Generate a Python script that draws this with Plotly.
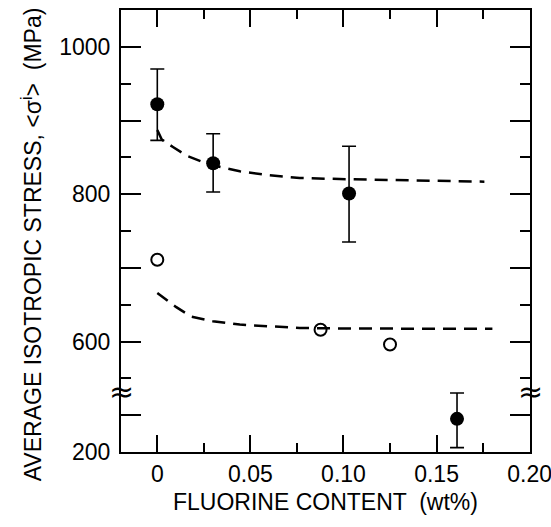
import plotly.graph_objects as go

# ---------------- data (real units) ----------------
filled_x = [0.0, 0.03, 0.103, 0.161]
filled_y = [922, 842, 801, 245]
filled_err_plus = [48, 40, 64, 35]
filled_err_minus = [49, 39, 66, 39]

open_x = [0.0, 0.0877, 0.125]
open_y = [711, 616, 596]

fit_upper_x = [0.0, 0.0024, 0.0084, 0.0159, 0.0282, 0.0443, 0.0593, 0.0765, 0.0979, 0.13, 0.1757]
fit_upper_y = [887, 874, 864, 852, 840, 831, 826, 822, 820.5, 819, 817]

fit_lower_x = [0.0, 0.0041, 0.01, 0.018, 0.0298, 0.0443, 0.0604, 0.0765, 0.1033, 0.1408, 0.18]
fit_lower_y = [666, 658, 647, 634, 627.5, 623, 620.3, 618.3, 617.6, 617.4, 617.2]

x_tick_vals = [0, 0.05, 0.10, 0.15, 0.20]
x_tick_text = ["0", "0.05", "0.10", "0.15", "0.20"]
y_label_real = [200, 600, 800, 1000]
y_label_text = ["200", "600", "800", "1000"]
y_unlabeled_major_real = [250, 700, 900]

BREAK = 525      # axis position of the break
OFFSET = 250     # values below the break are shifted up by this amount


def to_axis(v):
    return v if v >= BREAK else v + OFFSET


FONT = "Liberation Sans, Arial, sans-serif"
fig = go.Figure()

fig.add_trace(go.Scatter(
    x=fit_upper_x, y=[to_axis(v) for v in fit_upper_y], mode="lines",
    line=dict(color="black", width=2.5, dash="13px,8px"), hoverinfo="skip"))
fig.add_trace(go.Scatter(
    x=fit_lower_x, y=[to_axis(v) for v in fit_lower_y], mode="lines",
    line=dict(color="black", width=2.5, dash="13px,8px"), hoverinfo="skip"))

fig.add_trace(go.Scatter(
    x=filled_x, y=[to_axis(v) for v in filled_y], mode="markers",
    marker=dict(symbol="circle", size=14, color="black"),
    error_y=dict(type="data", array=filled_err_plus, arrayminus=filled_err_minus,
                 color="black", thickness=1.6, width=7)))
fig.add_trace(go.Scatter(
    x=open_x, y=[to_axis(v) for v in open_y], mode="markers",
    marker=dict(symbol="circle-open", size=12, color="black", line=dict(width=2))))

# invisible trace on the overlay axis that carries the unlabeled long ticks
fig.add_trace(go.Scatter(x=[None], y=[None], yaxis="y2", mode="markers",
                         showlegend=False, hoverinfo="skip"))

# axis-break marks
for xp in (0, 1):
    fig.add_annotation(x=xp, xref="paper", y=532, yref="y", text="≈",
                       showarrow=False, font=dict(size=30, color="black", family="DejaVu Sans"),
                       xanchor="center", yanchor="middle")

# y-axis title as a rotated annotation (positioned like the reference)
fig.add_annotation(x=-0.2176, xref="paper", y=0.47, yref="paper",
                   text="AVERAGE ISOTROPIC STRESS, &lt;σ<sup>i</sup>&gt;  (MPa)",
                   textangle=-90, showarrow=False, xanchor="center", yanchor="middle",
                   font=dict(size=23, color="black", family=FONT))

fig.update_xaxes(
    range=[-0.0195, 0.2002], tickmode="array", tickvals=x_tick_vals, ticktext=x_tick_text,
    ticks="inside", ticklen=17, tickwidth=2, tickcolor="black",
    minor=dict(dtick=0.025, tick0=0, ticks="inside", ticklen=9, tickwidth=2, tickcolor="black"),
    showline=True, linecolor="black", linewidth=2, mirror="ticks",
    showgrid=False, zeroline=False, automargin=False, ticklabeloverflow="allow",
    tickfont=dict(size=23, color="black", family=FONT),
    title=dict(text="FLUORINE CONTENT  (wt%)", font=dict(size=23, color="black", family=FONT),
               standoff=8))

fig.update_layout(
    yaxis=dict(
        range=[450, 1050], tickmode="array", tickvals=[to_axis(v) for v in y_label_real],
        ticktext=y_label_text,
        ticks="inside", ticklen=20, tickwidth=2, tickcolor="black",
        minor=dict(dtick=50, tick0=0, ticks="inside", ticklen=10, tickwidth=2, tickcolor="black"),
        showline=True, linecolor="black", linewidth=2, mirror="ticks",
        showgrid=False, zeroline=False, automargin=False, ticklabeloverflow="allow",
        tickfont=dict(size=23, color="black", family=FONT), ticklabelstandoff=4),
    yaxis2=dict(
        overlaying="y", side="left", range=[450, 1050], tickmode="array",
        tickvals=[to_axis(v) for v in y_unlabeled_major_real], showticklabels=False,
        ticks="inside", ticklen=20, tickwidth=2, tickcolor="black",
        showline=True, linecolor="black", linewidth=2, mirror="ticks",
        showgrid=False, zeroline=False, automargin=False),
    width=551, height=527, showlegend=False,
    margin=dict(l=121, r=21, t=10, b=75),
    paper_bgcolor="white", plot_bgcolor="white",
    font=dict(family=FONT, color="black"))

fig.write_html("out.html", config={"displayModeBar": False},
               post_script="document.body.style.margin='0';document.body.style.overflow='hidden';")
